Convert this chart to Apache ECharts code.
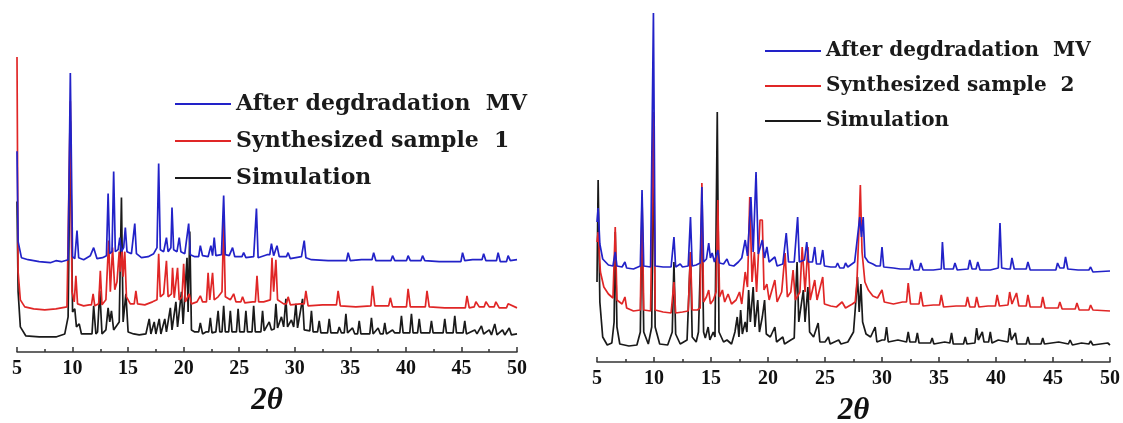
<!DOCTYPE html>
<html>
<head>
<meta charset="utf-8">
<script src="https://cdn.jsdelivr.net/npm/echarts@6/dist/echarts.min.js"></script>
<style>
  html, body { margin: 0; padding: 0; background: #fff; }
  #chart { width: 1123px; height: 423px; }
</style>
</head>
<body>
<div id="chart"></div>
<script>
// tick labels on the 2θ axis
const xTicks = [5, 10, 15, 20, 25, 30, 35, 40, 45, 50];

const nameAfter = 'After degdradation  MV';
const nameSample1 = 'Synthesized sample  1';
const nameSample2 = 'Synthesized sample  2';
const nameSim = 'Simulation';

// left panel, [2θ, stacked intensity]
const leftAfter = [
  [5, 200], [5.1, 110], [5.4, 94], [6, 92], [7, 90], [8, 89], [8.5, 91], [9, 90], [9.6, 92], [9.8, 278],
  [10.0, 95], [10.2, 93], [10.4, 121], [10.55, 94], [11, 92], [11.6, 96], [11.9, 104], [12.2, 93], [12.7, 94],
  [13.05, 96], [13.2, 158], [13.35, 98], [13.55, 100], [13.7, 180], [13.85, 100], [14.1, 102], [14.25, 114],
  [14.4, 100], [14.6, 104], [14.75, 124], [14.9, 100], [15.3, 98], [15.6, 128], [15.75, 98], [16.2, 94],
  [16.8, 95], [17.3, 98], [17.6, 104], [17.75, 188], [17.9, 102], [18.2, 100], [18.45, 114], [18.6, 100],
  [18.85, 104], [18.95, 144], [19.1, 102], [19.4, 100], [19.6, 114], [19.75, 100], [20.1, 98], [20.45, 128],
  [20.6, 97], [21.0, 95], [21.35, 95], [21.5, 106], [21.7, 96], [22.2, 95], [22.45, 106], [22.6, 96], [22.75, 114],
  [22.9, 96], [23.4, 97], [23.6, 156], [23.75, 97], [24.1, 96], [24.4, 104], [24.6, 95], [25.25, 95], [25.4, 99],
  [25.6, 94], [26.3, 95], [26.55, 143], [26.7, 94], [27.5, 97], [27.75, 97], [27.9, 108], [28.1, 96], [28.4, 106],
  [28.6, 95], [29.25, 95], [29.4, 99], [29.6, 93], [30.6, 95], [30.85, 111], [31.0, 94], [31.5, 92], [33, 91],
  [34.65, 91], [34.8, 99], [35.0, 91], [36, 92], [36.95, 92], [37.1, 99], [37.3, 91], [38.65, 91], [38.8, 96],
  [39.0, 91], [40.05, 91], [40.2, 96], [40.4, 91], [41.35, 91], [41.5, 96], [41.7, 91], [43, 90], [44.95, 90],
  [45.1, 99], [45.3, 91], [46, 92], [46.85, 92], [47.0, 98], [47.2, 91], [48.15, 91], [48.3, 99],
  [48.5, 90], [49.05, 90], [49.2, 96], [49.4, 91], [50, 92]
];

const leftSample = [
  [5, 294], [5.1, 80], [5.3, 52], [5.7, 45], [6.5, 43], [7.5, 42], [8.5, 43], [9.5, 45], [9.8, 250],
  [9.95, 60], [10.15, 50], [10.3, 76], [10.45, 48], [11, 46], [11.5, 47], [11.7, 47], [11.85, 58], [12.0, 46],
  [12.35, 48], [12.5, 81], [12.65, 47], [13.0, 52], [13.25, 111], [13.4, 60], [13.6, 104], [13.8, 62],
  [14.0, 70], [14.2, 100], [14.3, 80], [14.45, 101], [14.55, 75], [14.7, 100], [14.85, 55], [15.2, 48],
  [15.55, 48], [15.7, 61], [15.85, 48], [16.5, 47], [17.2, 50], [17.6, 52], [17.75, 98], [17.9, 55], [18.2, 58],
  [18.45, 91], [18.6, 55], [18.9, 58], [19.0, 84], [19.15, 54], [19.45, 84], [19.6, 52], [19.85, 55],
  [20.0, 88], [20.15, 50], [20.5, 58], [20.7, 48], [21.2, 50], [21.5, 56], [21.7, 50], [22.05, 50], [22.2, 79],
  [22.35, 52], [22.6, 79], [22.75, 52], [23.1, 55], [23.45, 60], [23.6, 130], [23.75, 55], [24.2, 52],
  [24.5, 58], [24.7, 50], [25.15, 50], [25.3, 55], [25.5, 49], [26.2, 50], [26.45, 50], [26.6, 76], [26.75, 50],
  [27.2, 50], [27.8, 52], [27.95, 94], [28.1, 60], [28.3, 92], [28.45, 52], [29, 48], [29.25, 48], [29.4, 55],
  [29.6, 47], [30.5, 48], [30.85, 48], [31.0, 61], [31.2, 46], [32.5, 47], [33.75, 47], [33.9, 61], [34.1, 46],
  [35.5, 45], [36.85, 46], [37.0, 66], [37.2, 46], [38.45, 46], [38.6, 54], [38.8, 45], [40.05, 45], [40.2, 63],
  [40.4, 45], [41.75, 45], [41.9, 61], [42.1, 45], [43.5, 44], [45.35, 44], [45.5, 56], [45.7, 44], [46.15, 45],
  [46.3, 50], [46.6, 45], [47.05, 45], [47.2, 50], [47.5, 45], [47.95, 45], [48.1, 50], [48.4, 44], [49.05, 44],
  [49.2, 48], [50, 44]
];

const leftSim = [
  [5, 150], [5.1, 60], [5.3, 25], [5.8, 16], [7, 15], [8.5, 15], [9.3, 18], [9.6, 35], [9.8, 230],
  [10.0, 40], [10.2, 43], [10.35, 25], [10.6, 28], [10.8, 18], [11.5, 18], [11.75, 18], [11.9, 46], [12.1, 18],
  [12.25, 20], [12.45, 61], [12.65, 18], [13.0, 22], [13.2, 44], [13.35, 30], [13.5, 41], [13.7, 22],
  [14.2, 30], [14.4, 154], [14.55, 30], [14.8, 58], [15.0, 20], [15.5, 18], [16.0, 17], [16.6, 18],
  [16.9, 33], [17.05, 18], [17.35, 30], [17.5, 18], [17.8, 33], [17.95, 18], [18.3, 33], [18.45, 20],
  [18.8, 44], [18.95, 22], [19.3, 50], [19.45, 25], [19.8, 60], [19.95, 28], [20.3, 94], [20.4, 40],
  [20.55, 120], [20.7, 22], [21.0, 20], [21.35, 20], [21.5, 29], [21.7, 18], [22.0, 20], [22.25, 20], [22.4, 34],
  [22.55, 19], [22.9, 20], [23.1, 41], [23.25, 20], [23.45, 20], [23.6, 46], [23.75, 20], [24.05, 20], [24.2, 41],
  [24.35, 20], [24.75, 20], [24.9, 43], [25.05, 20], [25.45, 20], [25.6, 41], [25.75, 20], [26.15, 20], [26.3, 46],
  [26.45, 20], [26.95, 20], [27.1, 41], [27.25, 21], [27.7, 30], [27.9, 22], [28.15, 23], [28.3, 48], [28.45, 24],
  [28.8, 35], [29.0, 25], [29.2, 53], [29.35, 25], [29.7, 32], [29.9, 25], [30.1, 48], [30.25, 24], [30.7, 53],
  [30.85, 22], [31.35, 21], [31.5, 41], [31.65, 20], [32.05, 20], [32.2, 31], [32.35, 19], [32.95, 19], [33.1, 33],
  [33.25, 19], [33.85, 19], [34.0, 25], [34.2, 19], [34.45, 19], [34.6, 38], [34.75, 19], [35.2, 24], [35.4, 18],
  [35.65, 18], [35.8, 31], [35.95, 18], [36.75, 18], [36.9, 34], [37.05, 18], [37.5, 24], [37.7, 18], [37.95, 18],
  [38.1, 29], [38.25, 18], [38.8, 22], [39.0, 19], [39.45, 19], [39.6, 36], [39.75, 19], [40.35, 19], [40.5, 38],
  [40.65, 19], [41.05, 19], [41.2, 33], [41.35, 19], [42.15, 19], [42.3, 31], [42.45, 19], [43.35, 19], [43.5, 33],
  [43.65, 19], [44.25, 19], [44.4, 36], [44.55, 19], [45.15, 19], [45.3, 31], [45.45, 18], [46.2, 22], [46.4, 18],
  [46.8, 26], [47.0, 18], [47.5, 22], [47.7, 17], [48.0, 28], [48.2, 17], [48.7, 22], [48.9, 17], [49.3, 24],
  [49.5, 17], [50, 18]
];

// right panel, [2θ, stacked intensity]
const rightAfter = [
  [5, 140], [5.1, 154], [5.25, 118], [5.5, 103], [6, 97], [6.4, 96], [6.6, 110], [6.75, 96], [7.2, 95],
  [7.45, 100], [7.6, 94], [8.2, 93], [8.8, 96], [8.95, 172], [9.1, 96], [9.7, 95], [9.95, 349], [10.1, 96],
  [10.8, 95], [11.5, 95], [11.75, 125], [11.9, 95], [12.3, 98], [12.5, 95], [13.0, 96], [13.2, 145],
  [13.35, 96], [13.7, 97], [14.05, 99], [14.2, 175], [14.35, 100], [14.6, 103], [14.8, 119], [14.95, 104],
  [15.1, 109], [15.3, 100], [15.6, 112], [15.75, 99], [16.1, 98], [16.4, 103], [16.6, 97], [17.0, 96],
  [17.4, 100], [17.7, 104], [18.0, 122], [18.2, 106], [18.5, 165], [18.7, 110], [18.95, 190], [19.15, 108],
  [19.5, 122], [19.7, 104], [19.9, 115], [20.1, 100], [20.6, 105], [20.8, 96], [21.3, 98], [21.6, 129],
  [21.8, 100], [22.3, 100], [22.6, 145], [22.75, 100], [23.2, 102], [23.4, 120], [23.55, 100], [23.9, 100],
  [24.1, 115], [24.25, 98], [24.6, 98], [24.8, 112], [24.95, 96], [25.5, 95], [25.95, 95], [26.1, 99], [26.3, 94],
  [26.65, 94], [26.8, 99], [27.0, 95], [27.6, 100], [27.9, 130], [28.05, 145], [28.2, 125], [28.35, 145],
  [28.5, 105], [28.8, 100], [29.2, 98], [29.5, 96], [29.85, 96], [30.0, 115], [30.15, 95], [31.0, 94], [31.6, 93],
  [32.45, 93], [32.6, 102], [32.8, 92], [33.25, 92], [33.4, 99], [33.6, 92], [34.5, 92], [35.2, 93], [35.3, 120],
  [35.45, 93], [36.25, 93], [36.4, 99], [36.6, 92], [37.55, 93], [37.7, 102], [37.9, 93], [38.25, 93], [38.4, 100],
  [38.6, 92], [39.5, 92], [40.2, 94], [40.35, 139], [40.5, 94], [41.0, 93], [41.25, 93], [41.4, 104], [41.6, 93],
  [42.2, 93], [42.65, 93], [42.8, 100], [43.0, 92], [44.2, 92], [45.25, 92], [45.4, 99], [45.6, 94], [45.95, 94],
  [46.1, 105], [46.3, 93], [47.2, 92], [48.15, 92], [48.3, 95], [48.5, 90], [50, 91]
];

const rightSample = [
  [5, 120], [5.1, 130], [5.3, 90], [5.6, 75], [6.0, 68], [6.4, 64], [6.6, 135], [6.75, 62], [7.2, 58],
  [7.45, 65], [7.6, 54], [8.2, 51], [8.8, 52], [8.95, 165], [9.1, 52], [9.7, 51], [9.95, 250], [10.1, 52],
  [10.8, 50], [11.5, 49], [11.75, 80], [11.9, 49], [12.5, 50], [13.0, 51], [13.2, 110], [13.35, 52],
  [13.8, 52], [14.05, 54], [14.2, 179], [14.35, 60], [14.6, 65], [14.8, 72], [14.95, 58], [15.2, 62],
  [15.45, 70], [15.6, 162], [15.75, 65], [16.0, 72], [16.2, 60], [16.5, 68], [16.8, 58], [17.2, 62],
  [17.5, 70], [17.7, 58], [18.0, 90], [18.2, 75], [18.4, 165], [18.6, 80], [18.8, 110], [19.0, 70],
  [19.3, 142], [19.5, 142], [19.65, 72], [19.9, 78], [20.1, 62], [20.6, 82], [20.8, 60], [21.2, 70],
  [21.5, 109], [21.7, 65], [22.0, 70], [22.2, 92], [22.4, 62], [22.8, 70], [23.0, 115], [23.25, 70],
  [23.5, 115], [23.7, 62], [24.1, 82], [24.3, 62], [24.8, 85], [24.95, 58], [25.5, 56], [26.0, 55],
  [26.5, 60], [26.8, 54], [27.4, 58], [27.65, 60], [27.8, 80], [28.0, 140], [28.1, 177], [28.25, 110],
  [28.5, 80], [28.8, 72], [29.2, 66], [29.6, 64], [30.0, 72], [30.2, 60], [31.0, 58], [31.8, 60], [32.15, 60],
  [32.3, 79], [32.5, 58], [33.0, 58], [33.25, 58], [33.4, 70], [33.6, 56], [34.5, 57], [35.05, 57], [35.2, 67],
  [35.4, 55], [36.5, 56], [37.35, 56], [37.5, 65], [37.7, 55], [38.15, 55], [38.3, 65], [38.5, 55], [39.3, 56],
  [39.95, 56], [40.1, 67], [40.3, 56], [41.05, 57], [41.2, 70], [41.4, 58], [41.8, 69], [42.0, 56], [42.65, 56],
  [42.8, 67], [43.0, 55], [43.95, 55], [44.1, 65], [44.3, 54], [45.45, 54], [45.6, 60], [45.8, 53], [46.95, 53],
  [47.1, 59], [47.3, 52], [48.15, 52], [48.3, 57], [48.5, 52], [50, 51]
];

const rightSim = [
  [5, 80], [5.1, 182], [5.25, 60], [5.5, 25], [5.9, 17], [6.3, 19], [6.5, 40], [6.6, 130], [6.75, 35],
  [7.0, 18], [7.8, 16], [8.5, 17], [8.8, 30], [8.95, 150], [9.1, 30], [9.5, 18], [9.8, 35], [9.95, 230],
  [10.1, 35], [10.5, 18], [11.2, 17], [11.6, 30], [11.75, 100], [11.9, 28], [12.3, 18], [12.9, 22],
  [13.2, 110], [13.35, 25], [13.7, 20], [13.9, 30], [14.2, 150], [14.35, 30], [14.5, 24], [14.75, 35],
  [14.9, 22], [15.2, 30], [15.35, 25], [15.55, 250], [15.7, 30], [16.1, 20], [16.4, 22], [16.8, 18],
  [17.1, 30], [17.3, 45], [17.45, 25], [17.6, 52], [17.75, 28], [18.0, 40], [18.15, 30], [18.3, 72],
  [18.45, 40], [18.7, 75], [18.85, 35], [19.1, 62], [19.25, 30], [19.5, 45], [19.7, 62], [19.85, 28],
  [20.2, 25], [20.6, 35], [20.75, 20], [21.3, 25], [21.45, 18], [22.0, 22], [22.3, 24], [22.4, 60], [22.55, 100],
  [22.7, 40], [23.1, 72], [23.25, 40], [23.5, 75], [23.65, 30], [24.0, 25], [24.4, 39], [24.55, 20],
  [25.0, 20], [25.3, 25], [25.45, 18], [26.2, 22], [26.4, 18], [27.0, 20], [27.5, 30], [27.7, 60],
  [27.85, 85], [28.0, 50], [28.15, 78], [28.3, 40], [28.6, 28], [29.0, 25], [29.4, 35], [29.55, 20],
  [30.0, 22], [30.25, 22], [30.4, 35], [30.55, 20], [31.4, 22], [32.15, 20], [32.3, 30], [32.45, 20], [32.95, 20],
  [33.1, 29], [33.25, 19], [34.25, 19], [34.4, 24], [34.55, 18], [35.5, 20], [35.95, 19], [36.1, 29], [36.25, 18],
  [37.15, 18], [37.3, 25], [37.45, 18], [38.15, 19], [38.3, 34], [38.45, 22], [38.8, 30], [38.95, 20], [39.35, 20],
  [39.5, 30], [39.65, 19], [40.2, 22], [41.05, 20], [41.2, 34], [41.35, 22], [41.7, 29], [41.85, 18], [42.65, 18],
  [42.8, 25], [42.95, 18], [43.95, 18], [44.1, 24], [44.25, 18], [45.5, 20], [46.35, 18], [46.5, 22], [46.7, 17],
  [47.5, 19], [48.15, 18], [48.3, 21], [48.5, 17], [49.8, 19], [50, 17]
];

const blue = '#2222c8';
const red = '#e02626';
const black = '#1a1a1a';

const chart = echarts.init(document.getElementById('chart'), null, { renderer: 'canvas' });

const makeX = (gridIndex) => ({
  type: 'value',
  gridIndex,
  min: 5,
  max: 50,
  interval: 5,
  name: '2θ',
  nameLocation: 'middle',
  nameGap: 33,
  nameTextStyle: {
    fontFamily: 'Liberation Serif',
    fontWeight: 'bold',
    fontStyle: 'italic',
    fontSize: 31,
    color: '#111'
  },
  splitLine: { show: false },
  axisLine: { lineStyle: { color: '#333', width: 1.5 } },
  axisTick: { inside: true, length: 5, lineStyle: { color: '#333', width: 1.5 } },
  minorTick: { show: true, splitNumber: 2, length: 3, lineStyle: { color: '#333', width: 1.5 } },
  axisLabel: {
    fontFamily: 'Liberation Serif',
    fontWeight: 'bold',
    fontSize: 20,
    color: '#111',
    margin: 7,
    formatter: (v) => (xTicks.includes(v) ? String(v) : '')
  }
});

const makeY = (gridIndex, max) => ({
  type: 'value',
  gridIndex,
  min: 0,
  max,
  show: false,
  splitLine: { show: false }
});

const line = (name, data, color, i) => ({
  name,
  type: 'line',
  xAxisIndex: i,
  yAxisIndex: i,
  data,
  symbol: 'none',
  animation: false,
  lineStyle: { color, width: 1.7 },
  itemStyle: { color }
});

const legendText = (size) => ({
  fontFamily: 'DejaVu Serif',
  fontWeight: 'bold',
  fontSize: size,
  color: '#1a1a1a'
});

const option = {
  backgroundColor: '#fff',
  animation: false,
  grid: [
    { left: 17, top: 40, width: 500, bottom: 71, outerBoundsMode: 'none' },
    { left: 597, top: 10, width: 513, bottom: 61, outerBoundsMode: 'none' }
  ],
  xAxis: [makeX(0), makeX(1)],
  yAxis: [makeY(0, 311), makeY(1, 352)],
  legend: [
    {
      left: 170, top: 88, orient: 'vertical', itemGap: 15,
      itemWidth: 56, itemHeight: 2, icon: 'rect',
      textStyle: legendText(22),
      data: [nameAfter, nameSample1, nameSim]
    },
    {
      left: 760, top: 36, orient: 'vertical', itemGap: 15,
      itemWidth: 56, itemHeight: 2, icon: 'rect',
      textStyle: legendText(20),
      data: [nameAfter, nameSample2, nameSim]
    }
  ],
  series: [
    line(nameSim, leftSim, black, 0),
    line(nameSample1, leftSample, red, 0),
    line(nameAfter, leftAfter, blue, 0),
    line(nameSim, rightSim, black, 1),
    line(nameSample2, rightSample, red, 1),
    line(nameAfter, rightAfter, blue, 1)
  ]
};

chart.setOption(option);
</script>
</body>
</html>
